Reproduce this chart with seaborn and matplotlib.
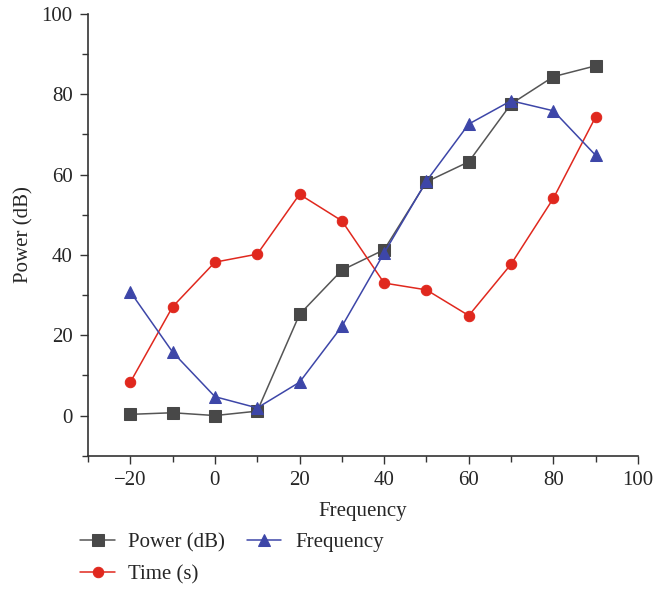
import matplotlib
matplotlib.use("Agg")
import matplotlib.pyplot as plt
import seaborn as sns
import pandas as pd
from matplotlib.ticker import MultipleLocator

freq = [-20, -10, 0, 10, 20, 30, 40, 50, 60, 70, 80, 90]
power_db = [0.3, 0.7, 0.0, 1.1, 25.2, 36.2, 41.3, 58.2, 63.2, 77.6, 84.4, 87.1]
time_s = [8.3, 27.1, 38.2, 40.2, 55.1, 48.5, 33.0, 31.3, 24.9, 37.7, 54.1, 74.4]
frequency = [30.8, 15.8, 4.7, 1.9, 8.3, 22.2, 40.5, 58.4, 72.6, 78.4, 75.9, 64.8]

sns.set_style("ticks")
plt.rcParams["font.family"] = ["Liberation Serif", "DejaVu Serif"]
plt.rcParams["font.size"] = 15

df = pd.DataFrame({"x": freq, "power": power_db, "time": time_s, "freq": frequency})

fig = plt.figure(figsize=(6.53, 5.89), dpi=100)
ax = fig.add_axes([0.1348, 0.2263, 0.977 - 0.1348, 0.9762 - 0.2263])

sns.lineplot(data=df, x="x", y="power", ax=ax, color="#555555", marker="s",
             markersize=8.5, markerfacecolor="#484848", markeredgecolor="#484848",
             linewidth=1.1, label="Power (dB)")
sns.lineplot(data=df, x="x", y="time", ax=ax, color="#e0281e", marker="o",
             markersize=7.5, markerfacecolor="#e0281e", markeredgecolor="#e0281e",
             linewidth=1.1, label="Time (s)")
sns.lineplot(data=df, x="x", y="freq", ax=ax, color="#3d46a8", marker="^",
             markersize=9, markerfacecolor="#3d46a8", markeredgecolor="#3d46a8",
             linewidth=1.1, label="Frequency")

ax.set_xlim(-30, 100)
ax.set_ylim(-10, 100)
ax.xaxis.set_major_locator(MultipleLocator(20))
ax.xaxis.set_minor_locator(MultipleLocator(10))
ax.yaxis.set_major_locator(MultipleLocator(20))
ax.yaxis.set_minor_locator(MultipleLocator(10))
ax.set_yticks([0, 20, 40, 60, 80, 100])
ax.set_xticks([-20, 0, 20, 40, 60, 80, 100])
ax.tick_params(which="major", direction="out", length=6, width=1, color="#333333",
               labelsize=15, pad=5)
ax.tick_params(which="minor", direction="out", length=4, width=1, color="#333333")
for s in ["top", "right"]:
    ax.spines[s].set_visible(False)
for s in ["left", "bottom"]:
    ax.spines[s].set_color("#333333")
    ax.spines[s].set_linewidth(1.2)

ax.set_xlabel("Frequency", fontsize=15, labelpad=9)
ax.set_ylabel("Power (dB)", fontsize=15, labelpad=6)

h, l = ax.get_legend_handles_labels()
ax.get_legend().remove()
fig.legend(h, l, loc="upper left", bbox_to_anchor=(0.123, 0.096),
           bbox_transform=fig.transFigure, ncol=2, frameon=False,
           handlelength=1.65, columnspacing=1.05, handletextpad=0.65,
           labelspacing=0.6, fontsize=15, borderaxespad=0, borderpad=0)

fig.savefig("out.png", dpi=100)
